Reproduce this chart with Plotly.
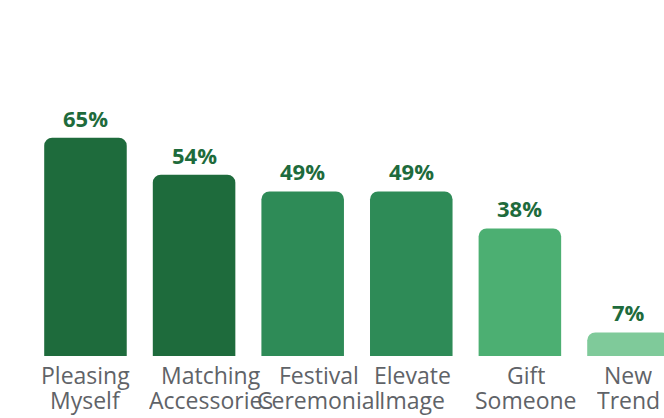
import plotly.graph_objects as go

# Reasons for purchase, share of respondents (%)
categories = ["Pleasing<br>Myself", "Matching<br>Accessories", "Festival<br>Ceremonial",
              "Elevate<br>Image", "Gift<br>Someone", "New<br>Trend"]
values = [65, 54, 49, 49, 38, 7]
bar_colors = ["#1e6b3c", "#1e6b3c", "#2e8b57", "#2e8b57", "#4caf72", "#7fca9a"]
# horizontal nudges (px) applied to the category labels
label_nudge = [0, 17, 16, 1, 6, 0]

FONT = "Open Sans"
x = list(range(len(categories)))

fig = go.Figure()
fig.add_trace(go.Bar(
    x=x,
    y=values,
    marker=dict(color=bar_colors, cornerradius=8, line=dict(width=0)),
    width=0.76,
    hoverinfo="skip",
))

# value labels above the bars
for xi, v in zip(x, values):
    fig.add_annotation(
        x=xi, y=v, text=f"<b>{v}%</b>", showarrow=False,
        yanchor="bottom", yshift=3,
        font=dict(family=FONT, size=22, color="#1e6b3c"),
    )

# two-line category labels under the bars, with tight line spacing
for xi, label, dx in zip(x, categories, label_nudge):
    for k, line in enumerate(label.split("<br>")):
        fig.add_annotation(
            x=xi, y=0, text=line, showarrow=False,
            xshift=dx, yanchor="top", yshift=-9 - 25 * k,
            height=25, valign="bottom", borderpad=0,
            font=dict(family=FONT, size=23, color="#5f6368"),
        )

fig.update_layout(
    width=664, height=418,
    margin=dict(l=0, r=0, t=0, b=62),
    paper_bgcolor="white", plot_bgcolor="white",
    showlegend=False,
    font=dict(family=FONT),
    xaxis=dict(
        range=[-0.787, 5.327],
        showticklabels=False,
        showgrid=False, zeroline=False, showline=False, ticks="",
    ),
    yaxis=dict(range=[0, 106], visible=False, showgrid=False, zeroline=False),
)

fig.write_html("out.html")
